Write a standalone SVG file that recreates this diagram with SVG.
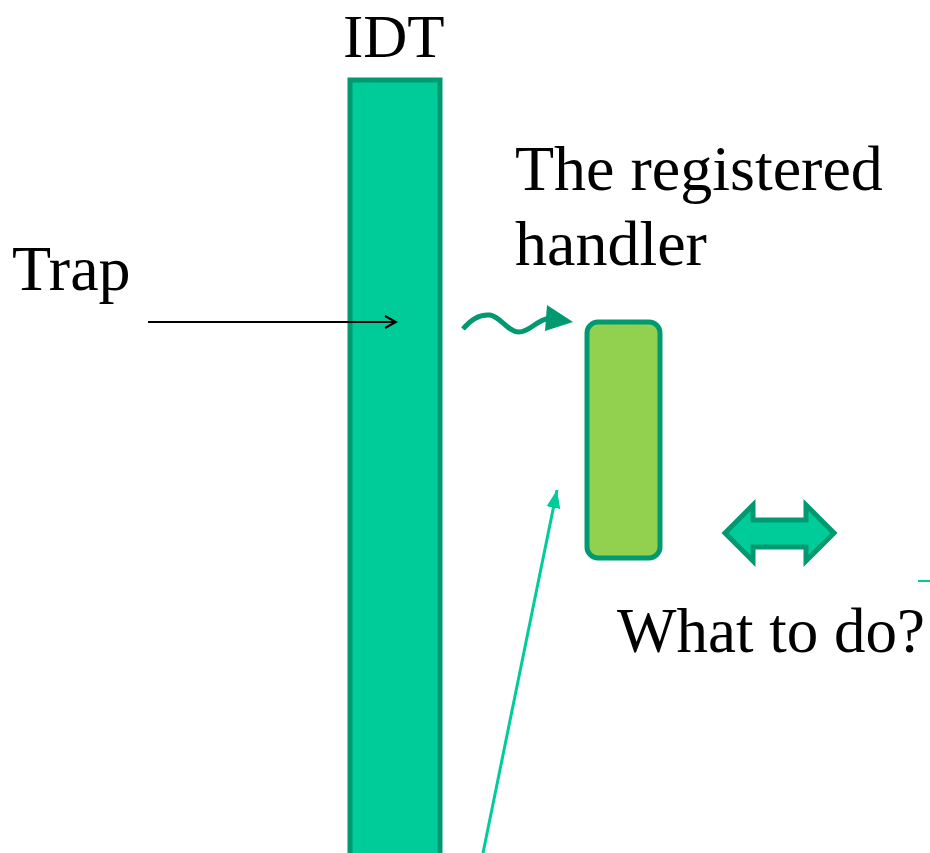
<svg xmlns="http://www.w3.org/2000/svg" width="930" height="853" viewBox="0 0 930 853">
<style>
text{font-family:"Liberation Serif","Times New Roman",serif;font-size:64px;fill:#000}
</style>
<defs>
<marker id="openArrow" markerWidth="14" markerHeight="14" refX="12" refY="7" orient="auto" markerUnits="userSpaceOnUse"><path d="M1,1 L12,7 L1,13" fill="none" stroke="#000" stroke-width="2"/></marker>
<marker id="tealHead" markerWidth="20" markerHeight="20" refX="18" refY="10" orient="auto" markerUnits="userSpaceOnUse"><path d="M0,3 L18,10 L0,17 Z" fill="#00CC99"/></marker>
</defs>
<g id="idt">
<rect x="350" y="80" width="90" height="790" fill="#00CC99" stroke="#009970" stroke-width="5"/>
<text x="343" y="57" style="font-size:61px">IDT</text>
</g>
<g id="handler">
<rect x="587" y="322" width="73" height="236" rx="11" fill="#92D050" stroke="#009970" stroke-width="5"/>
<text x="515" y="190">The registered</text>
<text x="515" y="265">handler</text>
</g>
<g id="trap"><text x="12" y="290">Trap</text></g>
<g id="whattodo">
<path d="M725,533 L753,505 L753,520 L806,520 L806,505 L834,533 L806,561 L806,547 L753,547 L753,561 Z" fill="#00CC99" stroke="#009970" stroke-width="5" stroke-linejoin="miter"/>
<text x="617" y="652" style="font-size:63px">What to do?</text>
<line x1="918" y1="581" x2="930" y2="581" stroke="#00CC99" stroke-width="2"/>
</g>
<g id="connectors">
<line x1="148" y1="322" x2="396" y2="322" stroke="#000" stroke-width="2" marker-end="url(#openArrow)"/>
<path d="M463,329 C472,318 480,314 490,315 C501,317 508,332 519,332 C530,332 536,320 550,318" fill="none" stroke="#009970" stroke-width="5"/>
<path d="M547,305 L573,322 L545,331 Z" fill="#009970"/>
<line x1="483" y1="853" x2="557" y2="490" stroke="#00CC99" stroke-width="3" marker-end="url(#tealHead)"/>
</g>
</svg>
